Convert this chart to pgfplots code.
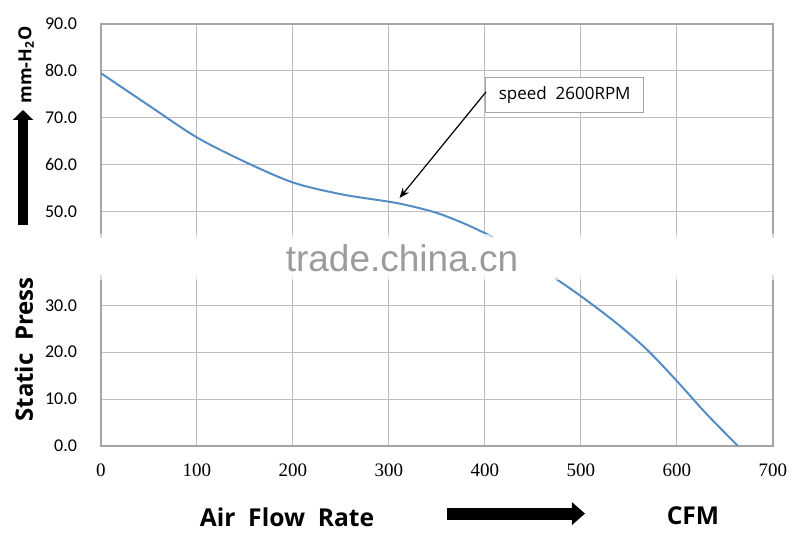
\documentclass[border=0pt]{standalone}
\usepackage{fontspec}
\setmainfont{Carlito}
\newfontfamily\serifnum{Liberation Serif}
\newfontfamily\labelsans{Open Sans}
\newfontfamily\wmark{Liberation Sans}
\usepackage{pgfplots}
\pgfplotsset{compat=1.18}
\usetikzlibrary{arrows.meta}

\definecolor{curve}{RGB}{84,141,196}
\definecolor{gridc}{RGB}{190,190,190}
\definecolor{framec}{RGB}{165,165,165}
\definecolor{wm}{RGB}{155,155,155}

\begin{document}
\begin{tikzpicture}
\useasboundingbox (-50.5pt,-47pt) rectangle (349.5pt,223pt);
\begin{axis}[
  at={(0,0)}, anchor=south west,
  scale only axis, width=336pt, height=211pt,
  xmin=0, xmax=700, ymin=0, ymax=90,
  xtick={0,100,...,700}, ytick={0,10,...,90},
  grid=major, major grid style={gridc, line width=0.5pt},
  axis line style={framec, line width=0.6pt},
  major tick length=0pt,
  /pgf/number format/assume math mode=true,
  yticklabel style={font=\fontsize{9}{10}\selectfont, xshift=-8.5pt,
    /pgf/number format/.cd, fixed, fixed zerofill, precision=1},
  xticklabel style={font=\serifnum\fontsize{9.5}{10}\selectfont, yshift=-5.6pt},
]
% speed 2600 RPM
\addplot[curve, line width=1pt, smooth] coordinates {
  (0,79.5) (50,72.6) (100,65.8) (150,60.6) (200,56.2) (250,53.7)
  (300,52.1) (320,51.3) (350,49.7) (380,47.3) (408,44.6)};
\addplot[curve, line width=1pt, smooth] coordinates {
  (473,35.8) (501,31.8) (537,26.2) (569,20.5) (601,13.6) (630,7.0) (663.5,0)};

\filldraw[draw=framec, fill=white, line width=0.5pt]
  (axis cs:401,71.2) rectangle (axis cs:565,78.5);
\node[font=\labelsans\fontsize{8.5}{10}\selectfont] at (axis cs:483,74.9) {speed~~2600RPM};
\draw[black, line width=0.6pt, -{Stealth[length=5pt,width=4pt]}]
  (axis cs:401,75.5) -- (axis cs:311,52.9);
\end{axis}

% watermark band
\fill[white, opacity=0.6] (-51pt,83pt) rectangle (350pt,106pt);
\fill[white] (-51pt,85.5pt) rectangle (350pt,104pt);
\node[text=wm, font=\wmark\fontsize{18.5}{20}\selectfont] at (150.5pt,94pt) {trade.china.cn};

% axis titles
\node[rotate=90, anchor=west, inner sep=0pt, font=\labelsans\bfseries\fontsize{12}{14}\selectfont]
  at (-38.5pt,12pt) {Static~~Press};
\draw[line width=5pt, -{Triangle[width=10pt,length=5pt]}] (-39pt,110.5pt) -- (-39pt,168pt);
\node[rotate=90, anchor=west, inner sep=0pt, font=\labelsans\bfseries\fontsize{9}{11}\selectfont]
  at (-37.5pt,171pt) {mm-H\textsubscript{2}O};

\node[font=\labelsans\bfseries\fontsize{12.3}{14}\selectfont] at (93pt,-35.5pt) {Air~~Flow~~Rate};
\draw[line width=6pt, -{Triangle[width=11pt,length=6.5pt]}] (173pt,-33.8pt) -- (242pt,-33.8pt);
\node[font=\labelsans\bfseries\fontsize{12.3}{14}\selectfont] at (296pt,-34.7pt) {CFM};
\end{tikzpicture}
\end{document}
